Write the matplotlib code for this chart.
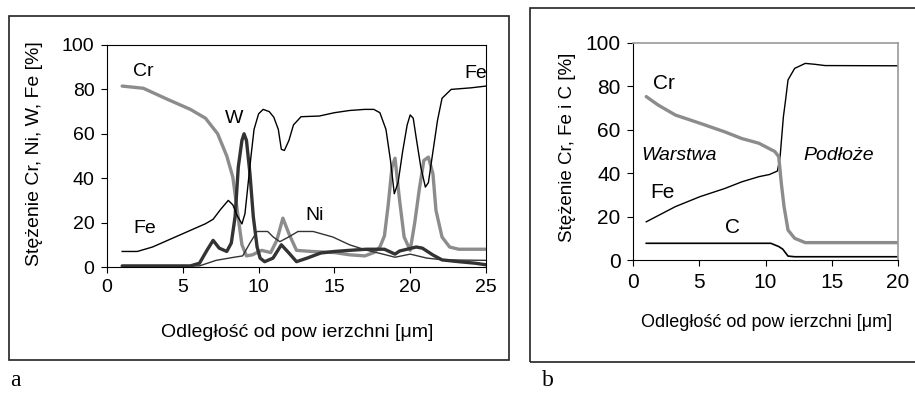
import matplotlib
matplotlib.use("Agg")
import matplotlib.pyplot as plt
from matplotlib.patches import Rectangle

plt.rcParams['font.family'] = ['Liberation Sans', 'DejaVu Sans']

# --- wykres a: Cr, Ni, W, Fe ---
cr_a_x = [1, 2.4, 4, 5.5, 6.5, 7.3, 7.9, 8.3, 8.65, 8.9, 9.2, 9.6, 10.2, 10.8, 11.2,
          11.6, 12.0, 12.5, 13.5, 15, 16, 17, 17.6, 18.0, 18.3, 18.55, 18.8, 19.0, 19.3, 19.6,
          20.0, 20.3, 20.6, 20.9, 21.2, 21.5, 21.7, 22.1, 22.6, 23.2, 25]
cr_a_y = [81.5, 80.5, 75.5, 71, 67, 60, 50, 40.5, 22.5, 10, 5, 5.5, 7.5, 6.5, 12,
          22, 15, 7.5, 7, 6.5, 5.5, 5, 6.5, 9, 14, 28, 45, 49, 30, 13.5,
          7.5, 20, 35, 48, 49.5, 42, 25.5, 13.5, 9, 8, 8]

fe_a_x = [1, 2, 3, 4, 5, 6, 6.5, 7.0, 7.5, 8.0, 8.3, 8.6, 8.9, 9.1, 9.3,
          9.5, 9.7, 10.0, 10.3, 10.7, 11.0, 11.3, 11.5, 11.7, 12.0, 12.3, 12.8, 14, 15, 16,
          17, 17.6, 18.0, 18.4, 18.7, 18.95, 19.2, 19.5, 19.8, 20.0, 20.2, 20.4, 20.7, 21.0, 21.2,
          21.5, 21.8, 22.1, 22.7, 24, 25]
fe_a_y = [7, 7, 9, 12, 15, 18, 19.5, 21.5, 26, 30, 28, 23, 19.4, 24, 37,
          50, 62, 69, 71, 70, 67.5, 62, 53, 52.5, 57, 64, 67.7, 68, 69.5, 70.5,
          71, 71, 69.5, 62, 48, 33, 38, 52, 64, 68.5, 67, 58, 45, 36, 38,
          52, 66, 76, 80, 80.7, 81.5]

w_a_x = [1, 3, 5.5, 6.1, 6.6, 7.0, 7.4, 7.9, 8.2, 8.45, 8.66, 8.9, 9.04, 9.2, 9.43,
         9.65, 9.9, 10.1, 10.4, 10.95, 11.5, 12.0, 12.5, 13.2, 14.1, 15.0, 16, 17.1, 18.3, 19.0,
         19.3, 20.4, 20.8, 21.5, 22.1, 23.2, 24.3, 25]
w_a_y = [0.5, 0.5, 0.5, 1.7, 7.6, 12, 8.5, 7, 10.8, 22.7, 45, 57, 60, 57, 42,
         22.7, 9, 4, 2.4, 4, 10, 6.3, 2.4, 4, 6.3, 7, 7.5, 8, 8, 5.8,
         7.2, 9, 8.5, 5.4, 3.2, 2.4, 1.7, 1]

ni_a_x = [1, 6.1, 7.2, 8.3, 8.95, 9.43, 9.9, 10.6, 10.95, 11.4, 12.0, 12.6, 13.6, 14.9, 16.0,
          17.1, 18.2, 19.0, 20.0, 21.1, 22.2, 25]
ni_a_y = [0, 0.5, 3, 4.3, 5, 10.8, 16, 16, 13.6, 11.4, 13.6, 16, 16, 13.5, 10,
          7.6, 5.8, 4.4, 5.8, 4, 3.2, 3]

# --- wykres b: Cr, Fe, C ---
cr_b_x = [1, 1.9, 3.2, 5.06, 6.95, 8.2, 9.5, 10.7, 11.0, 11.2, 11.4, 11.7, 12.2, 13, 20]
cr_b_y = [75.3, 71.4, 66.8, 63, 59, 56, 53.8, 50, 47.6, 35, 24.6, 13.8, 10, 8, 8]

fe_b_x = [1, 3.2, 5.06, 6.95, 8.2, 9.5, 10.3, 10.9, 11.1, 11.35, 11.5, 11.7, 12.2, 13.0, 13.7, 14.5, 20]
fe_b_y = [17.6, 24.6, 29.2, 33, 36, 38.4, 39.4, 41, 47.5, 66, 73, 83, 88.3, 90.6, 90.2, 89.6, 89.5]

c_b_x = [1, 10.4, 11.0, 11.3, 11.7, 12.2, 20]
c_b_y = [7.7, 7.7, 6.2, 5, 1.8, 1.5, 1.5]

xlabel = 'Odległość od pow ierzchni [μm]'

fig = plt.figure(figsize=(9.15, 3.94), dpi=100)

# ramki wokół wykresów
fig.patches.append(Rectangle((9/915, 1-360/394), 500/915, 344/394, transform=fig.transFigure,
                             fill=False, edgecolor='#222222', linewidth=1.2))
fig.patches.append(Rectangle((530/915, 1-362/394), 390/915, 354/394, transform=fig.transFigure,
                             fill=False, edgecolor='#222222', linewidth=1.2))

# wykres a
ax1 = fig.add_axes([107/915, 1-267/394, 379/915, 222/394])
ax1.plot(cr_a_x, cr_a_y, color='#8c8c8c', lw=2.4, solid_capstyle='round')
ax1.plot(ni_a_x, ni_a_y, color='#333333', lw=1.0)
ax1.plot(w_a_x, w_a_y, color='#333333', lw=2.4, solid_capstyle='round')
ax1.plot(fe_a_x, fe_a_y, color='black', lw=1.0)
ax1.set_xlim(0, 25)
ax1.set_ylim(0, 100)
ax1.set_xticks([0, 5, 10, 15, 20, 25])
ax1.set_yticks([0, 20, 40, 60, 80, 100])
ax1.tick_params(direction='out', length=4, width=0.8, labelsize=14, pad=5)
for s in ax1.spines.values():
    s.set_linewidth(0.8)
ax1.set_xlabel(xlabel, fontsize=14, va='center')
ax1.xaxis.set_label_coords(0.503, -0.297)
ax1.set_ylabel('Stężenie Cr, Ni, W, Fe [%]', fontsize=14, va='center')
ax1.yaxis.set_label_coords(-0.19, 0.51)
ax1.text(2.4, 88, 'Cr', fontsize=14, ha='center', va='center')
ax1.text(8.4, 67, 'W', fontsize=14, ha='center', va='center')
ax1.text(2.5, 17.5, 'Fe', fontsize=14, ha='center', va='center')
ax1.text(13.7, 23.4, 'Ni', fontsize=14, ha='center', va='center')
ax1.text(25.1, 87, 'Fe', fontsize=14, ha='right', va='center')

# wykres b
ax2 = fig.add_axes([633/915, 1-260/394, 265/915, 217/394])
ax2.plot(fe_b_x, fe_b_y, color='black', lw=1.0)
ax2.plot(c_b_x, c_b_y, color='black', lw=1.2)
ax2.plot(cr_b_x, cr_b_y, color='#8c8c8c', lw=2.4, solid_capstyle='round')
ax2.set_xlim(0, 20)
ax2.set_ylim(0, 100)
ax2.set_xticks([0, 5, 10, 15, 20])
ax2.set_yticks([0, 20, 40, 60, 80, 100])
ax2.tick_params(direction='out', length=4, width=0.8, labelsize=15, pad=5)
for side in ['left', 'bottom']:
    ax2.spines[side].set_linewidth(0.8)
for side in ['top', 'right']:
    ax2.spines[side].set_color('#999999')
    ax2.spines[side].set_linewidth(1.2)
ax2.set_xlabel(xlabel, fontsize=13, va='center')
ax2.xaxis.set_label_coords(0.505, -0.29)
ax2.set_ylabel('Stężenie Cr, Fe i C [%]', fontsize=13.5, va='center')
ax2.yaxis.set_label_coords(-0.249, 0.52)
ax2.text(2.3, 81.5, 'Cr', fontsize=15, ha='center', va='center')
ax2.text(3.5, 48, 'Warstwa', fontsize=14, style='italic', ha='center', va='center')
ax2.text(15.5, 48, 'Podłoże', fontsize=14, style='italic', ha='center', va='center')
ax2.text(2.2, 31, 'Fe', fontsize=15, ha='center', va='center')
ax2.text(7.5, 15, 'C', fontsize=15, ha='center', va='center')

fig.text(15/915, 1-380/394, 'a', family='Liberation Serif', fontsize=17, ha='center', va='center')
fig.text(548/915, 1-380/394, 'b', family='Liberation Serif', fontsize=17, ha='center', va='center')

fig.savefig('out.png', dpi=100)
